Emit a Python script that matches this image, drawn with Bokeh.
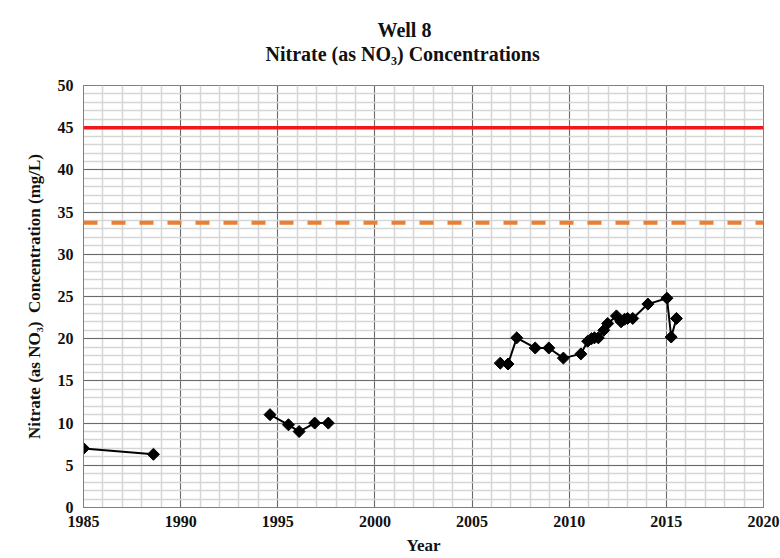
import numpy as np
from bokeh.plotting import figure
from bokeh.models import Range1d, SingleIntervalTicker, Span, Title, ColumnDataSource
from bokeh.embed import file_html
from bokeh.resources import INLINE

# ---- data ----
years_a = [1985.0, 1988.6]
nitrate_a = [7.0, 6.3]

years_b = [1994.6, 1995.55, 1996.1, 1996.9, 1997.6]
nitrate_b = [11.0, 9.8, 9.0, 10.0, 10.0]

years_c = [2006.45, 2006.85, 2007.3, 2008.25, 2008.95, 2009.7, 2010.6,
           2010.95, 2011.15, 2011.3, 2011.5, 2011.78, 2011.98, 2012.43,
           2012.67, 2012.85, 2013.0, 2013.27, 2014.05, 2015.03, 2015.25,
           2015.52]
nitrate_c = [17.1, 17.0, 20.1, 18.9, 18.9, 17.7, 18.2,
             19.7, 20.0, 20.1, 20.1, 21.0, 21.8, 22.7,
             22.0, 22.3, 22.4, 22.4, 24.1, 24.8, 20.2,
             22.4]

mcl_value = 45.0
trigger_value = 33.75

title_line1 = "Well 8"
title_line2 = "Nitrate (as NO\u2083) Concentrations"

FONT = "Liberation Serif"

p = figure(width=780, height=558, output_backend="svg", toolbar_location=None,
           x_range=Range1d(1985, 2020), y_range=Range1d(0, 50),
           min_border_left=83, min_border_right=17, min_border_top=85,
           min_border_bottom=51)

p.background_fill_color = "white"
p.border_fill_color = "white"
p.outline_line_color = "#7f7f7f"
p.outline_line_width = 1

# two-line title (first added is closest to the frame)
p.add_layout(Title(text=" ", text_font_size="17px", standoff=0), "above")
p.add_layout(Title(text=title_line2, align="left", offset=182,
                   text_font=FONT, text_font_size="20px", text_font_style="bold",
                   text_color="#111111", standoff=0), "above")
p.add_layout(Title(text=title_line1, align="left", offset=294,
                   text_font=FONT, text_font_size="20px", text_font_style="bold",
                   text_color="#111111", standoff=0), "above")

p.xaxis.ticker = SingleIntervalTicker(interval=5, num_minor_ticks=5)
p.yaxis.ticker = SingleIntervalTicker(interval=5, num_minor_ticks=5)

for ax in (p.xaxis[0], p.yaxis[0]):
    ax.major_tick_line_color = None
    ax.minor_tick_line_color = None
    ax.axis_line_color = "#7f7f7f"
    ax.major_label_text_font = FONT
    ax.major_label_text_font_size = "16px"
    ax.major_label_text_font_style = "bold"
    ax.major_label_text_color = "#111111"
    ax.axis_label_text_font = FONT
    ax.axis_label_text_font_style = "bold"
    ax.axis_label_text_color = "#111111"

p.xaxis.axis_label = "Year"
p.xaxis.axis_label_text_font_size = "17px"
p.xaxis.axis_label_standoff = 6
p.xaxis.major_label_standoff = 2

p.yaxis.axis_label = "Nitrate (as NO\u2083)\u00a0\u00a0Concentration (mg/L)"
p.yaxis.axis_label_text_font_size = "17px"
p.yaxis.axis_label_standoff = 11
p.yaxis.major_label_standoff = 4

for g in (p.xgrid[0], p.ygrid[0]):
    g.grid_line_color = "#6b6b6b"
    g.grid_line_width = 1
    g.minor_grid_line_color = "#d6d6d6"
    g.minor_grid_line_width = 1.5
    g.level = "underlay"

p.add_layout(Span(location=mcl_value, dimension="width", line_color="#f01818",
                  line_width=3.5))
p.add_layout(Span(location=trigger_value, dimension="width", line_color="#ed7d31",
                  line_width=4, line_dash="14 14"))

for xs, ys in ((years_a, nitrate_a), (years_b, nitrate_b), (years_c, nitrate_c)):
    src = ColumnDataSource(dict(x=xs, y=ys))
    p.line("x", "y", source=src, line_color="black", line_width=2)
    p.scatter("x", "y", source=src, marker="square", size=8.5, angle=np.pi / 4,
              fill_color="black", line_color="black")

open("out.html", "w").write(file_html(p, INLINE))
